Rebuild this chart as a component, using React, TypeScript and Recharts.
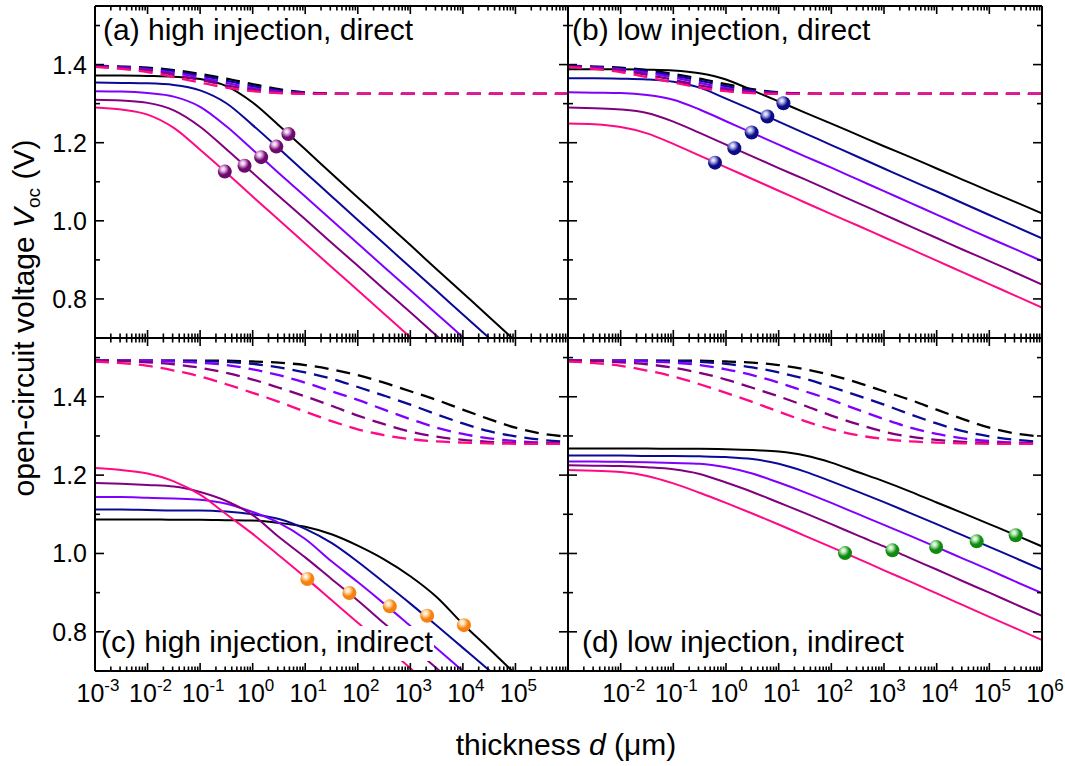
import React from "react";
import { ComposedChart, Line, Scatter, XAxis, YAxis } from "recharts";

// thickness grid (µm), half-decade steps from 1e-3 to 1e6
const thickness = [
  0.001, 0.00316, 0.01, 0.0316, 0.1, 0.316, 1, 3.16, 10, 31.6, 100, 316, 1000,
  3160, 10000, 31600, 100000, 316000, 1000000,
];

// series order: black, blue, violet, purple, pink
const colors = ["#000000", "#0a0a96", "#8000ff", "#800080", "#ff0a85"];

// (a) high injection, direct
const aSolid = [
  [1.372, 1.372, 1.371, 1.369, 1.363, 1.345, 1.303, 1.244, 1.183, 1.121, 1.06, 0.999, 0.938, 0.876, 0.815, 0.754, 0.692, 0.631, 0.57],
  [1.354, 1.353, 1.352, 1.348, 1.334, 1.301, 1.245, 1.185, 1.124, 1.063, 1.002, 0.942, 0.881, 0.821, 0.76, 0.7, 0.639, 0.579, 0.518],
  [1.332, 1.331, 1.327, 1.318, 1.292, 1.242, 1.182, 1.122, 1.062, 1.002, 0.942, 0.882, 0.822, 0.762, 0.702, 0.642, 0.582, 0.522, 0.462],
  [1.31, 1.308, 1.302, 1.283, 1.241, 1.183, 1.123, 1.063, 1.004, 0.944, 0.885, 0.825, 0.766, 0.706, 0.647, 0.587, 0.528, 0.468, 0.409],
  [1.29, 1.285, 1.272, 1.238, 1.182, 1.123, 1.062, 1.002, 0.942, 0.882, 0.822, 0.762, 0.702, 0.642, 0.582, 0.522, 0.462, 0.402, 0.342],
];
// radiative limit, direct gap (dashed, panels a and b)
const directDash = [
  [1.397, 1.395, 1.392, 1.386, 1.376, 1.364, 1.35, 1.337, 1.329, 1.326, 1.325, 1.325, 1.325, 1.325, 1.325, 1.325, 1.325, 1.325, 1.325],
  [1.396, 1.394, 1.39, 1.383, 1.372, 1.359, 1.345, 1.334, 1.328, 1.325, 1.325, 1.325, 1.325, 1.325, 1.325, 1.325, 1.325, 1.325, 1.325],
  [1.396, 1.393, 1.388, 1.379, 1.367, 1.353, 1.34, 1.331, 1.327, 1.325, 1.325, 1.325, 1.325, 1.325, 1.325, 1.325, 1.325, 1.325, 1.325],
  [1.395, 1.391, 1.385, 1.374, 1.361, 1.347, 1.336, 1.329, 1.326, 1.325, 1.325, 1.325, 1.325, 1.325, 1.325, 1.325, 1.325, 1.325, 1.325],
  [1.394, 1.389, 1.381, 1.368, 1.354, 1.341, 1.332, 1.327, 1.325, 1.325, 1.325, 1.325, 1.325, 1.325, 1.325, 1.325, 1.325, 1.325, 1.325],
];

// (b) low injection, direct
const bSolid = [
  [1.388, 1.388, 1.388, 1.387, 1.385, 1.378, 1.362, 1.334, 1.306, 1.277, 1.249, 1.22, 1.191, 1.163, 1.134, 1.105, 1.076, 1.048, 1.019],
  [1.365, 1.365, 1.364, 1.362, 1.356, 1.341, 1.313, 1.284, 1.254, 1.224, 1.194, 1.164, 1.134, 1.104, 1.075, 1.045, 1.015, 0.985, 0.955],
  [1.329, 1.328, 1.327, 1.322, 1.31, 1.285, 1.255, 1.225, 1.195, 1.165, 1.136, 1.106, 1.076, 1.046, 1.016, 0.986, 0.956, 0.927, 0.897],
  [1.29, 1.288, 1.285, 1.276, 1.254, 1.225, 1.195, 1.165, 1.135, 1.106, 1.076, 1.046, 1.016, 0.986, 0.956, 0.926, 0.897, 0.867, 0.837],
  [1.249, 1.247, 1.24, 1.224, 1.197, 1.167, 1.137, 1.107, 1.077, 1.047, 1.017, 0.988, 0.958, 0.928, 0.898, 0.868, 0.838, 0.808, 0.778],
];

// (c) high injection, indirect
const cSolid = [
  [1.087, 1.087, 1.087, 1.086, 1.086, 1.085, 1.084, 1.078, 1.068, 1.049, 1.02, 0.985, 0.942, 0.889, 0.82, 0.757, 0.692, 0.63, 0.568],
  [1.112, 1.112, 1.111, 1.11, 1.11, 1.107, 1.1, 1.088, 1.063, 1.027, 0.979, 0.926, 0.872, 0.816, 0.759, 0.702, 0.644, 0.585, 0.527],
  [1.144, 1.144, 1.142, 1.14, 1.137, 1.127, 1.106, 1.078, 1.037, 0.98, 0.927, 0.872, 0.815, 0.758, 0.7, 0.641, 0.583, 0.524, 0.466],
  [1.18, 1.178, 1.175, 1.171, 1.157, 1.134, 1.098, 1.042, 0.99, 0.935, 0.88, 0.822, 0.765, 0.707, 0.648, 0.59, 0.531, 0.473, 0.414],
  [1.218, 1.213, 1.204, 1.184, 1.15, 1.1, 1.05, 0.995, 0.939, 0.881, 0.823, 0.766, 0.707, 0.649, 0.59, 0.532, 0.473, 0.415, 0.356],
];
// radiative limit, indirect gap (dashed, panels c and d)
const indirectDash = [
  [1.492, 1.492, 1.492, 1.492, 1.492, 1.492, 1.49, 1.487, 1.481, 1.47, 1.455, 1.436, 1.414, 1.392, 1.367, 1.343, 1.321, 1.306, 1.298],
  [1.492, 1.492, 1.492, 1.492, 1.491, 1.489, 1.484, 1.475, 1.462, 1.446, 1.425, 1.403, 1.38, 1.355, 1.332, 1.312, 1.299, 1.29, 1.285],
  [1.492, 1.492, 1.492, 1.49, 1.487, 1.481, 1.47, 1.455, 1.436, 1.414, 1.392, 1.367, 1.343, 1.321, 1.305, 1.294, 1.287, 1.283, 1.281],
  [1.492, 1.491, 1.488, 1.483, 1.474, 1.461, 1.444, 1.423, 1.401, 1.377, 1.352, 1.33, 1.311, 1.298, 1.29, 1.285, 1.282, 1.281, 1.28],
  [1.49, 1.486, 1.479, 1.467, 1.452, 1.432, 1.41, 1.387, 1.362, 1.338, 1.317, 1.302, 1.292, 1.286, 1.283, 1.281, 1.28, 1.28, 1.28],
];

// (d) low injection, indirect
const dSolid = [
  [1.268, 1.268, 1.268, 1.268, 1.267, 1.267, 1.266, 1.264, 1.26, 1.25, 1.232, 1.208, 1.184, 1.158, 1.13, 1.103, 1.075, 1.047, 1.018],
  [1.25, 1.25, 1.25, 1.249, 1.249, 1.248, 1.246, 1.241, 1.229, 1.209, 1.184, 1.158, 1.131, 1.103, 1.075, 1.046, 1.017, 0.988, 0.959],
  [1.235, 1.235, 1.234, 1.233, 1.231, 1.229, 1.22, 1.204, 1.181, 1.156, 1.129, 1.101, 1.073, 1.045, 1.016, 0.987, 0.958, 0.928, 0.899],
  [1.225, 1.224, 1.223, 1.22, 1.215, 1.203, 1.181, 1.157, 1.13, 1.103, 1.075, 1.046, 1.018, 0.988, 0.959, 0.929, 0.9, 0.87, 0.841],
  [1.213, 1.211, 1.208, 1.198, 1.179, 1.155, 1.129, 1.102, 1.074, 1.045, 1.016, 0.987, 0.957, 0.928, 0.898, 0.868, 0.838, 0.809, 0.779],
];

// marked points (thickness, Voc), order black..pink
const aMarkD = [4.79, 2.82, 1.45, 0.7, 0.295];
const aMarkV = [1.222, 1.19, 1.163, 1.141, 1.126];
const bMarkD = [12.3, 6.1, 3.07, 1.44, 0.618];
const bMarkV = [1.301, 1.267, 1.226, 1.186, 1.149];
const cMarkD = [10470, 2090, 407, 69.2, 11.0];
const cMarkV = [0.817, 0.841, 0.865, 0.899, 0.935];
const dMarkD = [316000, 57500, 9770, 1445, 182];
const dMarkV = [1.0465, 1.031, 1.0167, 1.008, 1.001];

const xMajor = [1e-3, 1e-2, 1e-1, 1, 10, 100, 1e3, 1e4, 1e5, 1e6];
const xTicks: number[] = [];
for (let e = -3; e < 6; e++) {
  for (let m = 1; m < 10; m++) xTicks.push(m * Math.pow(10, e));
}
xTicks.push(1e6);
const yTicks = [0.7, 0.8, 0.9, 1.0, 1.1, 1.2, 1.3, 1.4, 1.5];

const W = 1065;
const H = 766;
const FONT = "'Liberation Sans', Arial, sans-serif";

type PanelSpec = {
  id: string;
  left: number;
  right: number;
  top: number;
  bottom: number;
  solid: number[][];
  dash: number[][];
  markD: number[];
  markV: number[];
  markColor: string;
  markLight: string;
  yLabels: boolean;
  xLabels: number[];
};

const panels: PanelSpec[] = [
  { id: "a", left: 95, right: 568, top: 6, bottom: 338, solid: aSolid, dash: directDash, markD: aMarkD, markV: aMarkV, markColor: "#6e0a6e", markLight: "#e9b8e9", yLabels: true, xLabels: [] },
  { id: "b", left: 568, right: 1042, top: 6, bottom: 338, solid: bSolid, dash: directDash, markD: bMarkD, markV: bMarkV, markColor: "#0c0c86", markLight: "#b8b8f0", yLabels: false, xLabels: [] },
  { id: "c", left: 95, right: 568, top: 338, bottom: 671, solid: cSolid, dash: indirectDash, markD: cMarkD, markV: cMarkV, markColor: "#f58210", markLight: "#ffe2b8", yLabels: true, xLabels: [-3, -2, -1, 0, 1, 2, 3, 4, 5] },
  { id: "d", left: 568, right: 1042, top: 338, bottom: 671, solid: dSolid, dash: indirectDash, markD: dMarkD, markV: dMarkV, markColor: "#118a11", markLight: "#b8ecb8", yLabels: false, xLabels: [-2, -1, 0, 1, 2, 3, 4, 5, 6] },
];

const isMajorX = (v: number) => xMajor.some((m) => Math.abs(v - m) < m * 1e-6);
const isMajorY = (v: number) => Math.round(v * 10) % 2 === 0;

function Panel({ p }: { p: PanelSpec }) {
  const rows = thickness.map((d, i) => {
    const r: Record<string, number> = { d };
    p.solid.forEach((s, k) => (r["s" + k] = s[i]));
    p.dash.forEach((s, k) => (r["q" + k] = s[i]));
    return r;
  });
  const marks = p.markD.map((d, i) => ({ d, v: p.markV[i] }));
  const gid = "ball-" + p.id;

  const bottomTick = (props: any) => {
    const { x, payload } = props;
    const v = payload.value as number;
    const major = isMajorX(v);
    const e = Math.round(Math.log10(v));
    return (
      <g>
        <line x1={x} x2={x} y1={p.bottom} y2={p.bottom - (major ? 8 : 4.5)} stroke="#000" strokeWidth={1.6} />
        {major && p.xLabels.includes(e) && (
          <text x={x + 3} y={702} textAnchor="middle" fontSize={25} fontFamily={FONT} fill="#000">
            10
            <tspan fontSize={17} dy={-11}>
              {e}
            </tspan>
          </text>
        )}
      </g>
    );
  };
  const topTick = (props: any) => {
    const { x, payload } = props;
    const major = isMajorX(payload.value);
    return <line x1={x} x2={x} y1={p.top} y2={p.top + (major ? 8 : 4.5)} stroke="#000" strokeWidth={1.6} />;
  };
  const leftTick = (props: any) => {
    const { y, payload } = props;
    const v = payload.value as number;
    const major = isMajorY(v);
    return (
      <g>
        <line x1={p.left} x2={p.left + (major ? 9 : 5)} y1={y} y2={y} stroke="#000" strokeWidth={1.6} />
        {major && p.yLabels && (
          <text x={p.left - 8} y={y + 9} textAnchor="end" fontSize={25} fontFamily={FONT} fill="#000">
            {v.toFixed(1)}
          </text>
        )}
      </g>
    );
  };
  const rightTick = (props: any) => {
    const { y, payload } = props;
    const major = isMajorY(payload.value);
    return <line x1={p.right} x2={p.right - (major ? 9 : 5)} y1={y} y2={y} stroke="#000" strokeWidth={1.6} />;
  };
  const ball = (props: any) => {
    const { cx, cy } = props;
    return (
      <g>
        <defs>
          <radialGradient id={gid} cx="38%" cy="32%" r="70%">
            <stop offset="0%" stopColor="#ffffff" />
            <stop offset="22%" stopColor={p.markLight} />
            <stop offset="60%" stopColor={p.markColor} />
            <stop offset="100%" stopColor={p.markColor} />
          </radialGradient>
        </defs>
        <circle cx={cx} cy={cy} r={7} fill={`url(#${gid})`} />
      </g>
    );
  };

  const axisLine = { stroke: "#000", strokeWidth: 2 };
  return (
    <div style={{ position: "absolute", left: 0, top: 0 }}>
      <ComposedChart
        width={W}
        height={H}
        data={rows}
        margin={{ top: 0, left: 0, right: 0, bottom: 0 }}
      >
        <XAxis xAxisId="b" dataKey="d" type="number" scale="log" domain={[1e-3, 1e6]} ticks={xTicks} interval={0} height={H - p.bottom} allowDataOverflow axisLine={axisLine} tickLine={false} tick={bottomTick} />
        <XAxis xAxisId="t" dataKey="d" orientation="top" type="number" scale="log" domain={[1e-3, 1e6]} ticks={xTicks} interval={0} height={p.top} allowDataOverflow axisLine={axisLine} tickLine={false} tick={topTick} />
        <YAxis yAxisId="l" dataKey="v" type="number" domain={[0.7, 1.55]} ticks={yTicks} interval={0} width={p.left} allowDataOverflow axisLine={axisLine} tickLine={false} tick={leftTick} />
        <YAxis yAxisId="r" orientation="right" type="number" domain={[0.7, 1.55]} ticks={yTicks} interval={0} width={W - p.right} allowDataOverflow axisLine={axisLine} tickLine={false} tick={rightTick} />
        {p.solid.map((_, k) => (
          <Line key={"s" + k} xAxisId="b" yAxisId="l" dataKey={"s" + k} type="monotone" stroke={colors[k]} strokeWidth={2} dot={false} isAnimationActive={false} />
        ))}
        {p.dash.map((_, k) => (
          <Line key={"q" + k} xAxisId="b" yAxisId="l" dataKey={"q" + k} type="monotone" stroke={colors[k]} strokeWidth={2.3} strokeDasharray="14 8" dot={false} isAnimationActive={false} />
        ))}
        <Scatter xAxisId="b" yAxisId="l" data={marks} dataKey="v" shape={ball} isAnimationActive={false} />
      </ComposedChart>
    </div>
  );
}

export default function App() {
  return (
    <div style={{ position: "absolute", left: 0, top: 0, width: W, height: H, background: "#fff", fontFamily: FONT }}>
      {panels.map((p) => (
        <Panel key={p.id} p={p} />
      ))}
      <svg width={W} height={H} style={{ position: "absolute", left: 0, top: 0, pointerEvents: "none" }}>
        <g fontFamily={FONT} fill="#000">
          <text x={103} y={40} fontSize={30}>(a) high injection, direct</text>
          <text x={572} y={40} fontSize={30}>(b) low injection, direct</text>
          <rect x={106} y={626} width={328} height={35} fill="#fff" />
          <text x={101} y={652} fontSize={30}>(c) high injection, indirect</text>
          <text x={582} y={652} fontSize={30}>(d) low injection, indirect</text>
          <text x={566} y={755} fontSize={30} textAnchor="middle">
            thickness <tspan fontStyle="italic">d</tspan> (μm)
          </text>
          <text transform="translate(34,318) rotate(-90)" fontSize={30} textAnchor="middle">
            open-circuit voltage <tspan fontStyle="italic">V</tspan>
            <tspan fontSize={19} dy={6}>oc</tspan>
            <tspan dy={-6}> (V)</tspan>
          </text>
        </g>
      </svg>
    </div>
  );
}
